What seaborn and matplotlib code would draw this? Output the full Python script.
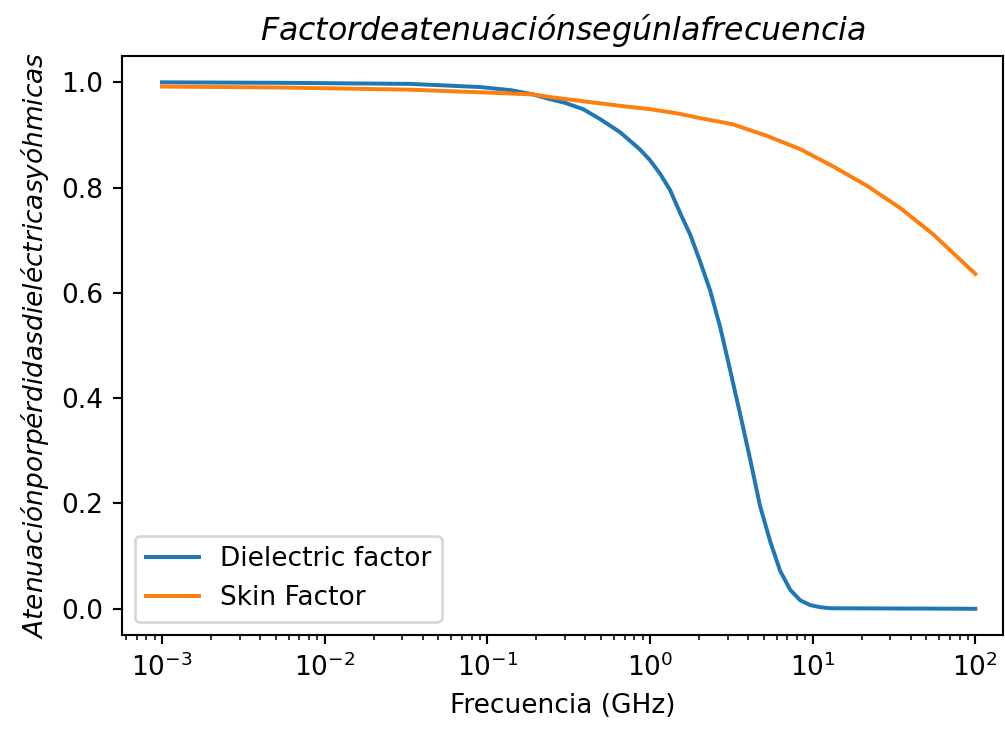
import numpy as np
import pandas as pd
import matplotlib
matplotlib.use("Agg")
import matplotlib.pyplot as plt
import seaborn as sns

# Frequencies (GHz) and attenuation factors
freq_dielectric = [0.001, 0.00579, 0.0335, 0.0904, 0.14, 0.191, 0.243, 0.30,
                   0.388, 0.494, 0.656, 0.871, 1.00, 1.155, 1.33, 1.53, 1.77,
                   2.03, 2.34, 2.70, 3.10, 3.58, 4.12, 4.75, 5.48, 6.31, 7.28,
                   8.39, 9.66, 11.1, 12.8, 100.0]
dielectric = [1.000, 0.999, 0.997, 0.991, 0.985, 0.977, 0.968, 0.961,
              0.949, 0.930, 0.905, 0.872, 0.852, 0.826, 0.795, 0.752, 0.710,
              0.660, 0.605, 0.535, 0.455, 0.370, 0.285, 0.195, 0.128, 0.072,
              0.036, 0.016, 0.007, 0.003, 0.001, 0.000]

freq_skin = [0.001, 0.00579, 0.0335, 0.0904, 0.191, 0.243, 0.388, 0.628,
             1.00, 1.47, 2.04, 3.25, 5.26, 8.39, 13.4, 21.7, 34.6, 55.2,
             100.0]
skin = [0.992, 0.990, 0.986, 0.981, 0.977, 0.972, 0.964, 0.956, 0.949,
        0.941, 0.932, 0.920, 0.898, 0.873, 0.840, 0.803, 0.761, 0.711,
        0.636]

fig, ax = plt.subplots(figsize=(1005 / 190, 730 / 190), dpi=190)
fig.subplots_adjust(left=0.1214, right=0.998, top=0.9233, bottom=0.130)

sns.lineplot(x=freq_dielectric, y=dielectric, ax=ax, color="tab:blue",
             label="Dielectric factor")
sns.lineplot(x=freq_skin, y=skin, ax=ax, color="tab:orange",
             label="Skin Factor")

ax.set_xscale("log")
# right side of the reference frame is cut close to the last tick
ax.set_xlim(10 ** -3.246, 10 ** 2.17)
ax.set_title(r"$Factor de atenuación según la frecuencia$")
ax.set_xlabel("Frecuencia (GHz)")
ax.set_ylabel(r"$Atenuación por pérdidas dieléctricas y óhmicas$")
ax.legend(loc="lower left")

fig.savefig("out.png", dpi=190)
